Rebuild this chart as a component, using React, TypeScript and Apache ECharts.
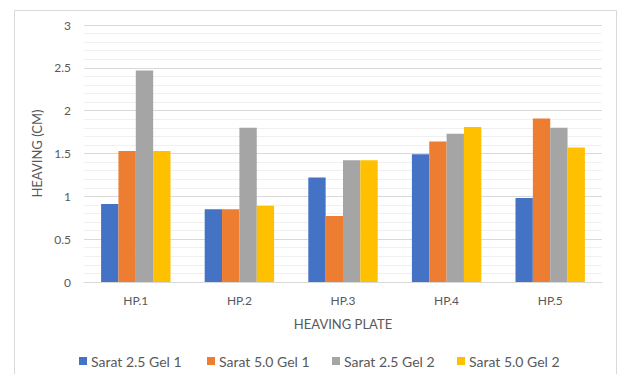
import React, { useEffect, useRef } from "react";
import * as echarts from "echarts";

const categories = ["HP.1", "HP.2", "HP.3", "HP.4", "HP.5"];
const seriesNames = ["Sarat 2.5 Gel 1", "Sarat 5.0 Gel 1", "Sarat 2.5 Gel 2", "Sarat 5.0 Gel 2"];
const sarat25Gel1 = [0.91, 0.85, 1.22, 1.49, 0.98];
const sarat50Gel1 = [1.53, 0.85, 0.77, 1.64, 1.91];
const sarat25Gel2 = [2.47, 1.8, 1.42, 1.73, 1.8];
const sarat50Gel2 = [1.53, 0.89, 1.42, 1.81, 1.57];
const colors = ["#4472C4", "#ED7D31", "#A5A5A5", "#FFC000"];
const legendLefts = [79, 207, 332, 457];

export default function App() {
  const ref = useRef<HTMLDivElement>(null);

  useEffect(() => {
    if (!ref.current) return;
    const chart = echarts.init(ref.current, undefined, { renderer: "svg" });
    const values = [sarat25Gel1, sarat50Gel1, sarat25Gel2, sarat50Gel2];
    const font = "Lato, 'Open Sans', sans-serif";
    chart.setOption({
      animation: false,
      color: colors,
      textStyle: { fontFamily: font },
      graphic: [
        {
          type: "rect",
          shape: { x: 14.5, y: 10.5, width: 602, height: 380 },
          style: { fill: "none", stroke: "#d9d9d9", lineWidth: 1 },
          silent: true,
        },
      ],
      legend: seriesNames.map((n, i) => ({
        data: [n],
        left: legendLefts[i],
        top: 354,
        padding: 0,
        itemWidth: 8,
        itemHeight: 8,
        itemGap: 3,
        icon: "rect",
        textStyle: { fontSize: 14, color: "#595959", fontFamily: font, padding: [0, 0, 0, -1] },
        selectedMode: false,
      })),
      grid: { left: 84, right: 16, top: 25, bottom: 92, containLabel: false },
      xAxis: {
        type: "category",
        data: categories,
        name: "HEAVING PLATE",
        nameLocation: "middle",
        nameGap: 35,
        nameTextStyle: { fontSize: 13, color: "#595959", fontFamily: font },
        axisLine: { lineStyle: { color: "#d9d9d9", width: 1 } },
        axisTick: { show: false },
        axisLabel: { color: "#595959", fontSize: 12, margin: 12, fontFamily: font },
      },
      yAxis: {
        type: "value",
        min: 0,
        max: 3,
        interval: 0.5,
        name: "HEAVING (CM)",
        nameLocation: "middle",
        nameGap: 35,
        nameTextStyle: { fontSize: 13, color: "#595959", fontFamily: font },
        axisLine: { show: false },
        axisTick: { show: false },
        axisLabel: { color: "#595959", fontSize: 12, margin: 13, fontFamily: font },
        splitLine: { lineStyle: { color: "#d9d9d9", width: 1 } },
        minorTick: { show: false, splitNumber: 5 },
        minorSplitLine: { show: true, lineStyle: { color: "#f0f0f0", width: 1 } },
      },
      series: seriesNames.map((n, i) => ({
        name: n,
        type: "bar",
        data: values[i],
        barGap: "0%",
        barCategoryGap: "33%",
        itemStyle: { color: colors[i] },
      })),
    });
    return () => chart.dispose();
  }, []);

  return (
    <div
      ref={ref}
      style={{ position: "fixed", left: 0, top: 0, width: 618, height: 374, background: "#fff" }}
    />
  );
}
